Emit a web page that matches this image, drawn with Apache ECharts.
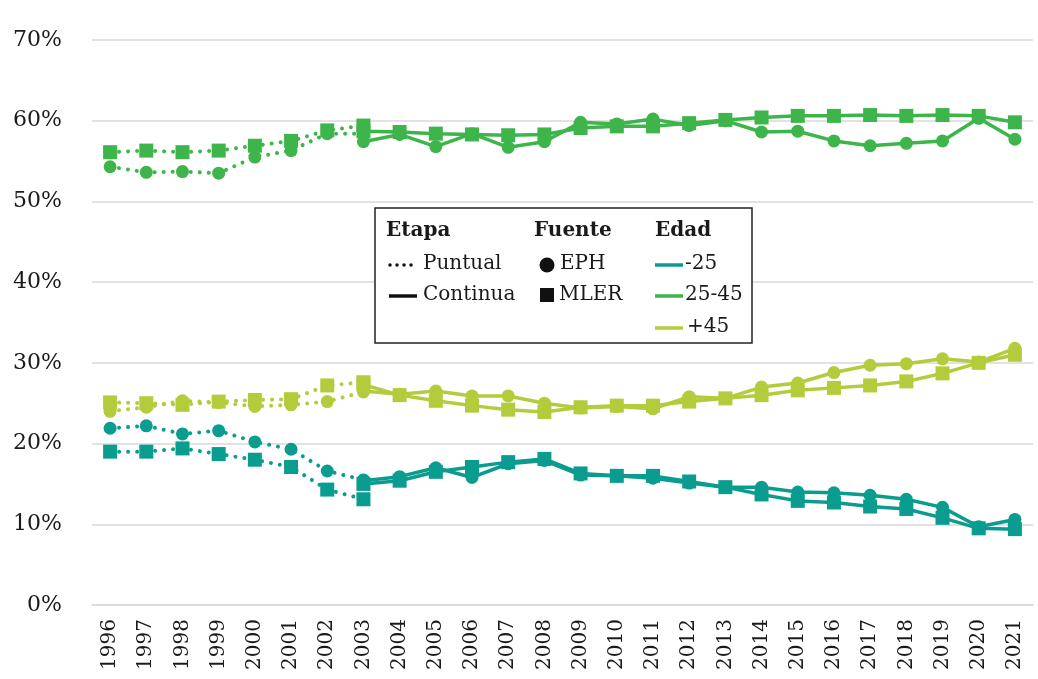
<!DOCTYPE html>
<html>
<head>
<meta charset="utf-8">
<script src="https://cdn.jsdelivr.net/npm/echarts@6/dist/echarts.min.js"></script>
<style>
  html, body { margin: 0; padding: 0; background: #fff; }
  #chart { width: 1038px; height: 679px; }
</style>
</head>
<body>
<div id="chart"></div>
<script>
  // years on the x axis
  const years = [
    '1996', '1997', '1998', '1999', '2000', '2001', '2002', '2003', '2004',
    '2005', '2006', '2007', '2008', '2009', '2010', '2011', '2012', '2013',
    '2014', '2015', '2016', '2017', '2018', '2019', '2020', '2021'
  ];
  const yTicks = [0, 10, 20, 30, 40, 50, 60, 70];

  // Puntual: 1996-2003
  const eph25Puntual = [21.9, 22.2, 21.2, 21.6, 20.2, 19.3, 16.6, 15.5];
  const mler25Puntual = [19.0, 19.0, 19.4, 18.7, 18.0, 17.1, 14.3, 13.1];
  const eph2545Puntual = [54.3, 53.6, 53.7, 53.5, 55.5, 56.3, 58.4, 58.4];
  const mler2545Puntual = [56.1, 56.3, 56.1, 56.3, 56.9, 57.5, 58.8, 59.4];
  const eph45Puntual = [24.0, 24.5, 25.3, 25.1, 24.6, 24.8, 25.2, 26.4];
  const mler45Puntual = [25.1, 25.0, 24.8, 25.2, 25.4, 25.5, 27.2, 27.6];

  // Continua: 2003-2021
  const eph25Continua = [15.4, 15.9, 17.0, 15.8, 17.5, 17.9, 16.1, 16.0, 15.7, 15.1, 14.6, 14.6, 14.0, 13.9, 13.6, 13.1, 12.1, 9.7, 10.6];
  const mler25Continua = [15.0, 15.4, 16.5, 17.1, 17.7, 18.1, 16.3, 16.0, 16.0, 15.3, 14.6, 13.7, 12.9, 12.7, 12.2, 11.9, 10.8, 9.5, 9.4];
  const eph2545Continua = [57.4, 58.3, 56.8, 58.4, 56.7, 57.4, 59.8, 59.6, 60.2, 59.4, 60.0, 58.6, 58.7, 57.5, 56.9, 57.2, 57.5, 60.3, 57.7];
  const mler2545Continua = [58.7, 58.6, 58.4, 58.3, 58.2, 58.3, 59.1, 59.3, 59.3, 59.7, 60.1, 60.4, 60.6, 60.6, 60.7, 60.6, 60.7, 60.6, 59.8];
  const eph45Continua = [26.5, 26.1, 26.5, 25.9, 25.9, 25.0, 24.4, 24.6, 24.3, 25.8, 25.6, 27.0, 27.5, 28.8, 29.7, 29.9, 30.5, 30.1, 31.8];
  const mler45Continua = [27.3, 26.0, 25.3, 24.7, 24.2, 23.9, 24.5, 24.7, 24.7, 25.2, 25.6, 26.0, 26.6, 26.9, 27.2, 27.7, 28.7, 30.0, 31.0];

  const colors = { '-25': '#0a9c8f', '25-45': '#3db54b', '+45': '#b3cc3b' };
  const font = '"DejaVu Serif", serif';
  const textColor = '#1a1a1a';
  const continuaStart = years.indexOf('2003');

  const pad = (values, offset) =>
    Array(offset).fill(null).concat(values).concat(Array(years.length - offset - values.length).fill(null));

  const makeSeries = (edad, fuente, etapa, values) => {
    const dotted = etapa === 'Puntual';
    return {
      name: `${edad} ${fuente} ${etapa}`,
      type: 'line',
      data: pad(values, dotted ? 0 : continuaStart),
      symbol: fuente === 'EPH' ? 'circle' : 'rect',
      symbolSize: fuente === 'EPH' ? 13 : 14,
      showSymbol: true,
      connectNulls: false,
      itemStyle: { color: colors[edad] },
      lineStyle: dotted
        ? { color: colors[edad], width: 4, type: [0.01, 9], cap: 'round' }
        : { color: colors[edad], width: 3.5 },
      emphasis: { disabled: true },
      animation: false
    };
  };

  const series = [
    makeSeries('25-45', 'EPH', 'Puntual', eph2545Puntual),
    makeSeries('25-45', 'MLER', 'Puntual', mler2545Puntual),
    makeSeries('25-45', 'EPH', 'Continua', eph2545Continua),
    makeSeries('25-45', 'MLER', 'Continua', mler2545Continua),
    makeSeries('+45', 'EPH', 'Puntual', eph45Puntual),
    makeSeries('+45', 'MLER', 'Puntual', mler45Puntual),
    makeSeries('+45', 'EPH', 'Continua', eph45Continua),
    makeSeries('+45', 'MLER', 'Continua', mler45Continua),
    makeSeries('-25', 'EPH', 'Puntual', eph25Puntual),
    makeSeries('-25', 'MLER', 'Puntual', mler25Puntual),
    makeSeries('-25', 'EPH', 'Continua', eph25Continua),
    makeSeries('-25', 'MLER', 'Continua', mler25Continua)
  ];

  // legend box drawn by hand (three columns)
  const legendText = (text, x, y, bold) => ({
    type: 'text',
    x, y,
    style: {
      text,
      font: `${bold ? 'bold ' : ''}20px ${font}`,
      fill: textColor,
      verticalAlign: 'middle'
    }
  });
  const legendLine = (x, y, color, dotted) => ({
    type: 'line',
    shape: { x1: x, y1: y, x2: x + 28, y2: y },
    style: dotted
      ? { stroke: color, lineWidth: 3.5, lineDash: [0.01, 7], lineCap: 'round' }
      : { stroke: color, lineWidth: 3.5 }
  });

  const legend = [
    {
      type: 'rect',
      shape: { x: 375, y: 208, width: 377, height: 135 },
      style: { fill: '#fff', stroke: '#222', lineWidth: 1.5 },
      z: 10
    },
    legendText('Etapa', 386, 231, true),
    legendText('Fuente', 534, 231, true),
    legendText('Edad', 655, 231, true),
    legendLine(390, 265, '#111', true),
    legendText('Puntual', 423, 264),
    legendLine(389, 296, '#111', false),
    legendText('Continua', 423, 295),
    { type: 'circle', shape: { cx: 547, cy: 265, r: 7.5 }, style: { fill: '#111' } },
    legendText('EPH', 560, 264),
    { type: 'rect', shape: { x: 540, y: 288, width: 14, height: 14 }, style: { fill: '#111' } },
    legendText('MLER', 559, 295),
    legendLine(655, 265, colors['-25'], false),
    legendText('-25', 685, 264),
    legendLine(655, 296, colors['25-45'], false),
    legendText('25-45', 685, 295),
    legendLine(655, 328, colors['+45'], false),
    legendText('+45', 687, 327)
  ].map(el => Object.assign({ z: 11 }, el));
  legend[0].z = 10;

  const chart = echarts.init(document.getElementById('chart'));
  chart.setOption({
    backgroundColor: '#fff',
    animation: false,
    grid: { left: 92, right: 5, top: 40, bottom: 74 },
    xAxis: {
      type: 'category',
      data: years,
      boundaryGap: true,
      axisLine: { show: true, lineStyle: { color: '#d9d9d9', width: 1.5 } },
      axisTick: { show: false },
      axisLabel: {
        rotate: 90,
        interval: 0,
        margin: 14,
        color: textColor,
        fontFamily: font,
        fontSize: 20
      },
      splitLine: { show: false }
    },
    yAxis: {
      type: 'value',
      min: yTicks[0],
      max: yTicks[yTicks.length - 1],
      interval: 10,
      axisLine: { show: false },
      axisTick: { show: false },
      axisLabel: {
        margin: 30,
        color: textColor,
        fontFamily: font,
        fontSize: 22,
        formatter: v => `${v}%`
      },
      splitLine: { lineStyle: { color: '#d9d9d9', width: 1.5 } }
    },
    series,
    graphic: legend
  });
</script>
</body>
</html>
